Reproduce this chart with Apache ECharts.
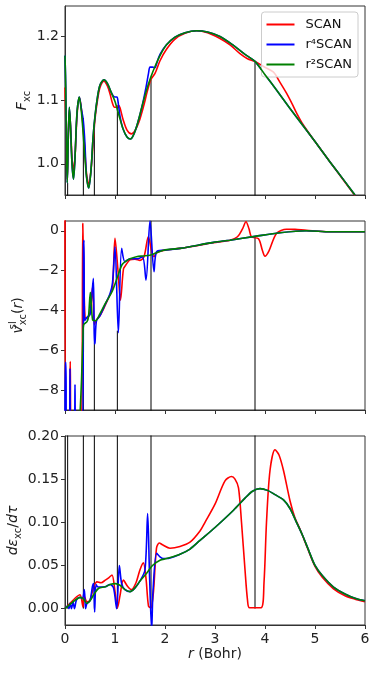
<!DOCTYPE html>
<html><head><meta charset="utf-8">
<script src="https://cdn.jsdelivr.net/npm/echarts@6/dist/echarts.min.js"></script>
<style>html,body{margin:0;padding:0;background:#fff}#c{width:374px;height:673px}</style>
</head><body><div id="c"></div>
<script>
// ---------- data ----------
const seriesNames = ['SCAN', 'r\u2074SCAN', 'r\u00b2SCAN'];
const xTicks = [0, 1, 2, 3, 4, 5, 6];
const fxcTicks = [1.0, 1.1, 1.2];
const vslTicks = [-8, -6, -4, -2, 0];
const dedtTicks = [0, 0.05, 0.10, 0.15, 0.20];

// shell boundaries (vertical lines)
const shellR = [0.053, 0.367, 0.587, 1.047, 1.72, 3.8];
const fxcShellTop = [0.97, 1.072, 1.061, 1.091, 1.133, 1.161];
const vslShellTop = [-9.5, -0.5, -5.6, -5.0, 0.5, -0.3];
const dedtShellTop = [0.25, 0.25, 0.25, 0.25, 0.25, 0.25];

// Panel 1: F_xc
const fxcSCAN = [[0,1.12],[0.02,1.05],[0.045,0.975],[0.065,1.04],[0.087,1.085],[0.11,1.06],[0.14,1.01],[0.17,0.99],[0.2,1.01],[0.24,1.075],[0.287,1.104],[0.33,1.085],[0.38,1.04],[0.43,0.985],[0.475,0.968],[0.52,0.99],[0.56,1.03],[0.6,1.07],[0.65,1.1],[0.7,1.12],[0.78,1.13],[0.85,1.122],[0.9,1.11],[0.95,1.095],[0.99,1.089],[1.03,1.089],[1.07,1.092],[1.1,1.088],[1.16,1.07],[1.24,1.053],[1.33,1.047],[1.4,1.052],[1.48,1.066],[1.57,1.09],[1.65,1.115],[1.72,1.133],[1.8,1.142],[1.9,1.162],[2.03,1.18],[2.2,1.196],[2.4,1.205],[2.63,1.209],[2.85,1.206],[3.1,1.197],[3.3,1.187],[3.5,1.173],[3.65,1.165],[3.8,1.161],[3.97,1.153],[4.17,1.144],[4.3,1.128],[4.43,1.111],[4.55,1.093],[4.63,1.08],[4.75,1.063],[5.0,1.035],[5.3,1.003],[5.6,0.971],[5.8,0.95]];
const fxcR4SCAN = [[0,1.17],[0.015,1.12],[0.03,1.02],[0.045,0.97],[0.065,1.04],[0.087,1.089],[0.11,1.06],[0.14,1.0],[0.17,0.976],[0.2,1.01],[0.24,1.08],[0.287,1.105],[0.33,1.085],[0.36,1.072],[0.375,1.06],[0.4,1.03],[0.43,0.98],[0.475,0.962],[0.52,0.99],[0.56,1.04],[0.6,1.075],[0.65,1.105],[0.7,1.124],[0.78,1.132],[0.85,1.126],[0.92,1.113],[0.97,1.106],[1.0,1.105],[1.04,1.105],[1.06,1.098],[1.1,1.075],[1.16,1.055],[1.24,1.042],[1.31,1.039],[1.38,1.047],[1.46,1.066],[1.54,1.09],[1.62,1.12],[1.67,1.142],[1.7,1.152],[1.75,1.152],[1.8,1.151],[1.83,1.157],[1.9,1.172],[2.03,1.187],[2.2,1.199],[2.4,1.206],[2.63,1.209],[2.85,1.207],[3.1,1.2],[3.37,1.186],[3.6,1.172],[3.8,1.161],[4.0,1.14],[4.23,1.116],[4.5,1.087],[4.75,1.061],[5.0,1.035],[5.3,1.003],[5.6,0.972],[5.8,0.951]];
const fxcR2SCAN = [[0,1.17],[0.015,1.12],[0.03,1.02],[0.045,0.97],[0.065,1.04],[0.087,1.089],[0.11,1.06],[0.14,1.0],[0.17,0.976],[0.2,1.01],[0.24,1.08],[0.287,1.105],[0.33,1.08],[0.38,1.03],[0.43,0.98],[0.475,0.962],[0.52,0.99],[0.56,1.04],[0.6,1.075],[0.65,1.105],[0.7,1.124],[0.78,1.132],[0.85,1.126],[0.92,1.113],[1.0,1.098],[1.08,1.076],[1.16,1.055],[1.24,1.042],[1.31,1.039],[1.38,1.047],[1.46,1.066],[1.54,1.09],[1.62,1.113],[1.72,1.137],[1.8,1.153],[1.9,1.17],[2.03,1.187],[2.2,1.199],[2.4,1.206],[2.63,1.209],[2.85,1.207],[3.1,1.2],[3.37,1.186],[3.6,1.172],[3.8,1.161],[4.0,1.14],[4.23,1.116],[4.5,1.087],[4.75,1.061],[5.0,1.035],[5.3,1.003],[5.6,0.972],[5.8,0.951]];

// Panel 2: v_xc^sl(r)
const vslSCAN = [[0.0,0.6],[0.01,0.6],[0.02,-9.5],[0.08,-9.5],[0.105,-6.55],[0.12,-9.5],[0.33,-9.5],[0.355,0.37],[0.375,-2],[0.4,-4.3],[0.44,-4.38],[0.5,-4.1],[0.553,-2.8],[0.587,-4.7],[0.62,-4.5],[0.7,-4.25],[0.8,-3.75],[0.9,-3.2],[0.95,-2.9],[1.0,-0.38],[1.06,-2.0],[1.11,-3.47],[1.17,-1.9],[1.22,-1.7],[1.3,-1.45],[1.4,-1.42],[1.5,-1.48],[1.58,-1.3],[1.667,-0.3],[1.73,-0.97],[1.78,-1.3],[1.83,-1.1],[1.97,-0.98],[2.3,-0.88],[2.97,-0.6],[3.3,-0.47],[3.45,-0.3],[3.55,0.1],[3.62,0.45],[3.68,0.1],[3.73,-0.3],[3.87,-0.4],[3.95,-1.0],[4.0,-1.27],[4.08,-1.0],[4.23,-0.13],[4.43,0.08],[4.6,0.07],[4.83,0.02],[5.3,-0.05],[6,-0.05]];
const vslR4SCAN = [[0.0,-9.5],[0.005,-6.6],[0.02,-6.6],[0.025,-9.5],[0.09,-9.5],[0.1,-6.9],[0.11,-9.5],[0.19,-9.5],[0.2,-7.7],[0.21,-9.5],[0.355,-9.5],[0.37,-0.8],[0.38,-0.47],[0.39,-4.5],[0.42,-4.4],[0.45,-4.3],[0.5,-4.2],[0.567,-2.38],[0.587,-5.67],[0.6,-5.6],[0.63,-4.5],[0.7,-4.25],[0.8,-3.7],[0.9,-3.15],[0.95,-2.6],[1.0,-0.8],[1.067,-5.1],[1.133,-0.88],[1.2,-1.55],[1.3,-1.4],[1.45,-1.4],[1.55,-1.3],[1.62,-2.47],[1.7,0.5],[1.78,-2.05],[1.83,-1.05],[1.97,-0.97],[2.3,-0.88],[2.97,-0.58],[3.3,-0.47],[3.8,-0.28],[4.3,-0.1],[4.83,0.0],[5.3,-0.05],[6,-0.05]];
const vslR2SCAN = [[0.3,-9.2],[0.33,-7.5],[0.36,-5.2],[0.373,-4.7],[0.44,-4.55],[0.47,-4.3],[0.507,-3.08],[0.553,-4.47],[0.607,-4.5],[0.7,-4.15],[0.807,-3.63],[0.94,-3.05],[1.04,-2.38],[1.14,-1.7],[1.23,-1.5],[1.3,-1.4],[1.43,-1.3],[1.55,-1.26],[1.7,-1.22],[1.8,-1.13],[1.97,-0.97],[2.3,-0.88],[2.97,-0.58],[3.3,-0.47],[3.8,-0.28],[4.3,-0.1],[4.83,0.0],[5.3,-0.05],[6,-0.05]];

// Panel 3: d eps_xc / d tau
const dedtSCAN = [[0,0],[0.1,0.006],[0.2,0.012],[0.3,0.016],[0.36,0.002],[0.38,0.015],[0.44,0.008],[0.5,0.01],[0.573,0.025],[0.64,0.031],[0.72,0.03],[0.807,0.033],[0.88,0.036],[0.94,0.039],[1.0,0.02],[1.05,0.001],[1.1,0.015],[1.167,0.033],[1.25,0.026],[1.33,0.022],[1.42,0.03],[1.5,0.045],[1.567,0.053],[1.62,0.035],[1.67,0.003],[1.72,0.001],[1.77,0.02],[1.83,0.07],[1.887,0.076],[1.95,0.074],[2.1,0.07],[2.3,0.072],[2.5,0.077],[2.7,0.09],[2.8,0.1],[3.0,0.121],[3.2,0.148],[3.33,0.153],[3.4,0.15],[3.47,0.14],[3.53,0.1],[3.6,0.045],[3.65,0.01],[3.69,0.001],[3.92,0.001],[3.98,0.03],[4.03,0.1],[4.1,0.16],[4.2,0.184],[4.28,0.178],[4.37,0.16],[4.5,0.125],[4.6,0.105],[4.7,0.092],[4.85,0.07],[5.0,0.049],[5.15,0.036],[5.37,0.023],[5.6,0.015],[5.8,0.011],[6,0.008]];
const dedtR4SCAN = [[0,0],[0.05,0.003],[0.08,0.0],[0.1,0.006],[0.13,0.0],[0.16,0.008],[0.19,0.0],[0.23,0.01],[0.3,0.013],[0.35,0.012],[0.387,0.022],[0.41,0.0],[0.44,0.006],[0.5,0.009],[0.55,0.026],[0.573,0.029],[0.593,-0.004],[0.62,0.028],[0.66,0.025],[0.807,0.0254],[0.9,0.028],[0.97,0.024],[1.033,0.0],[1.087,0.05],[1.133,0.029],[1.2,0.022],[1.3,0.0197],[1.4,0.024],[1.5,0.032],[1.6,0.045],[1.653,0.11],[1.69,0.04],[1.733,-0.025],[1.76,0.02],[1.833,0.064],[1.9,0.06],[1.967,0.058],[2.03,0.058],[2.3,0.063],[2.5,0.069],[2.7,0.079],[3.0,0.094],[3.37,0.114],[3.6,0.128],[3.75,0.136],[3.9,0.139],[4.05,0.137],[4.2,0.132],[4.37,0.126],[4.5,0.116],[4.63,0.1],[4.75,0.085],[4.87,0.068],[5.0,0.05],[5.15,0.038],[5.37,0.025],[5.6,0.017],[5.8,0.012],[6,0.009]];
const dedtR2SCAN = [[0,0],[0.1,0.005],[0.207,0.01],[0.307,0.013],[0.37,0.011],[0.44,0.006],[0.5,0.009],[0.573,0.016],[0.673,0.0236],[0.807,0.0254],[0.9,0.028],[1.007,0.029],[1.1,0.027],[1.2,0.022],[1.3,0.0197],[1.4,0.024],[1.5,0.032],[1.633,0.041],[1.75,0.05],[1.9,0.056],[2.03,0.058],[2.3,0.063],[2.5,0.069],[2.7,0.079],[3.0,0.094],[3.37,0.114],[3.6,0.128],[3.75,0.136],[3.9,0.139],[4.05,0.137],[4.2,0.132],[4.37,0.126],[4.5,0.116],[4.63,0.1],[4.75,0.085],[4.87,0.068],[5.0,0.05],[5.15,0.038],[5.37,0.025],[5.6,0.017],[5.8,0.012],[6,0.009]];

// ---------- chart ----------
const FONT = 'DejaVu Sans';
const colors = ['#ff0000', '#0000ff', '#008000'];
const panels = [
  {data: [fxcSCAN, fxcR4SCAN, fxcR2SCAN], min: 0.951, max: 1.248, ticks: fxcTicks, fmt: v => v.toFixed(1),
   shellLo: 0.9, shellHi: fxcShellTop, name: '{i|F}{s|xc}', nameGap: 33},
  {data: [vslSCAN, vslR4SCAN, vslR2SCAN], min: -8.97, max: 0.49, ticks: vslTicks, fmt: v => String(v).replace('-', '\u2212'),
   shellLo: -10, shellHi: vslShellTop, name: '{i|v}{supz|sl}{s|xc}{n|(}{i|r}{n|)}', nameGap: 37},
  {data: [dedtSCAN, dedtR4SCAN, dedtR2SCAN], min: -0.019, max: 0.2, ticks: dedtTicks, fmt: v => v.toFixed(2),
   shellLo: 0, shellHi: dedtShellTop, name: '{i|d\u03b5}{s|xc}{n|/}{i|d\u03c4}', nameGap: 42}
];
const tops = [6, 221, 436];
const grid = [], xAxis = [], yAxis = [], series = [];
const richName = {
  i: {fontFamily: FONT, fontStyle: 'italic', fontSize: 14, lineHeight: 20, verticalAlign: 'middle'},
  n: {fontFamily: FONT, fontSize: 14, lineHeight: 20},
  s: {fontFamily: FONT, fontSize: 10, lineHeight: 20, verticalAlign: 'bottom'},
  supz: {fontFamily: FONT, fontSize: 10, lineHeight: 20, verticalAlign: 'top', width: 0, align: 'left'}
};
panels.forEach((p, k) => {
  grid.push({left: 65, top: tops[k], width: 300, height: 189, show: true, borderColor: '#333', borderWidth: 1,
             containLabel: false, outerBoundsMode: 'none'});
  xAxis.push({
    type: 'value', gridIndex: k, min: 0, max: 6, interval: 1,
    axisLine: {show: true, onZero: false, lineStyle: {color: '#333'}},
    axisTick: {show: true, length: 4, lineStyle: {color: '#333'}},
    axisLabel: {show: k === 2, fontFamily: FONT, fontSize: 14, color: '#222', margin: 7},
    splitLine: {show: false},
    name: k === 2 ? '{i|r}{n| (Bohr)}' : '',
    nameLocation: 'middle', nameGap: 19, nameMoveOverlap: false,
    nameTextStyle: {rich: richName, color: '#222'}
  });
  yAxis.push({
    type: 'value', gridIndex: k, min: p.min, max: p.max,
    axisLine: {show: true, onZero: false, lineStyle: {color: '#333'}},
    axisTick: {show: true, length: 4, customValues: p.ticks, lineStyle: {color: '#333'}},
    axisLabel: {show: true, customValues: p.ticks, formatter: p.fmt, fontFamily: FONT, fontSize: 14, color: '#222', margin: 6},
    splitLine: {show: false},
    name: p.name, nameLocation: 'middle', nameRotate: 90, nameGap: p.nameGap, nameMoveOverlap: false,
    nameTextStyle: {rich: richName, color: '#222'}
  });
  // vertical shell lines
  shellR.forEach((r, j) => {
    series.push({
      type: 'line', name: 'shell', xAxisIndex: k, yAxisIndex: k, symbol: 'none', silent: true,
      lineStyle: {color: '#000', width: 1}, z: 1,
      data: [[r, p.shellLo], [r, p.shellHi[j]]]
    });
  });
  p.data.forEach((d, s) => {
    series.push({
      type: 'line', name: seriesNames[s], xAxisIndex: k, yAxisIndex: k, data: d,
      symbol: 'none', showSymbol: false, smooth: 0.3, clip: true,
      lineStyle: {color: colors[s], width: 1.6}, itemStyle: {color: colors[s]}, z: 2 + s
    });
  });
});

const chart = echarts.init(document.getElementById('c'), null, {renderer: 'canvas'});
chart.setOption({
  animation: false,
  backgroundColor: '#fff',
  grid, xAxis, yAxis, series,
  legend: {
    data: seriesNames, orient: 'vertical', right: 16, top: 12,
    icon: 'rect', itemWidth: 28, itemHeight: 2, itemGap: 7,
    padding: [6, 6, 6, 5], borderColor: '#ccc', borderWidth: 1, borderRadius: 3,
    backgroundColor: 'rgba(255,255,255,0.8)',
    textStyle: {fontFamily: FONT, fontSize: 13, color: '#111', padding: [0, 0, 0, 6]}
  }
});
</script></body></html>
